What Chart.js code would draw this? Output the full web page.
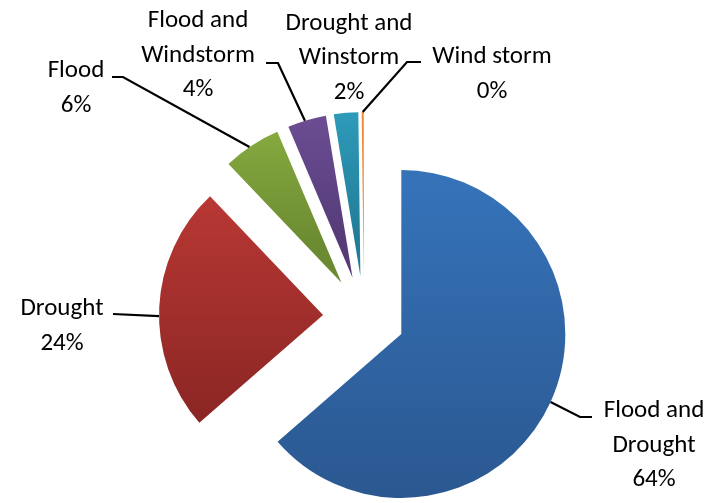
<!DOCTYPE html>
<html>
<head>
<meta charset="utf-8">
<title>Hazard types</title>
<script src="https://cdn.jsdelivr.net/npm/chart.js@4.4.1/dist/chart.umd.min.js"></script>
<style>
  html, body { margin: 0; padding: 0; background: #fff; }
  #wrap { width: 721px; height: 503px; position: relative; }
</style>
</head>
<body>
<div id="wrap"><canvas id="hazardPie"></canvas></div>
<script>
// Categories (lines of each label) and their shares
var categories = [
  ['Flood and', 'Drought'],
  ['Drought'],
  ['Flood'],
  ['Flood and', 'Windstorm'],
  ['Drought and', 'Winstorm'],
  ['Wind storm']
];
var shares = [63.6, 24.3, 5.7, 3.8, 2.4, 0.2];

// top / bottom colours of the gradient for each slice
var topColors = ['#3572b8', '#b93834', '#8db243', '#73529c', '#32a4c4', '#f58d38'];
var bottomColors = ['#2a568e', '#8a2624', '#6b8a31', '#553c78', '#227d98', '#e07a28'];

// label layout: text centre x, first baseline y, leader points, where on the arc the leader lands
var labelLayout = [
  { x: 654, y: 417, leader: [[592, 417], [580, 417]], at: 0.5 },
  { x: 62, y: 315, leader: [[113, 314]], at: 0.465 },
  { x: 76, y: 77, leader: [[112, 77], [123, 77]], at: 0.46 },
  { x: 198, y: 27, leader: [[266, 63], [278, 63]], at: 0.45 },
  { x: 349, y: 29.5, leader: null, at: 0.5 },
  { x: 492, y: 63, leader: [[421, 62], [407, 62]], at: 0.5 }
];

var EXPLODE = 41;
var LINE_GAP = 34.5;
var FONT = '25px Carlito, Lato, "Liberation Sans", sans-serif';

function sliceShift(p) {
  var mid = (p.startAngle + p.endAngle) / 2;
  return { dx: Math.cos(mid) * EXPLODE, dy: Math.sin(mid) * EXPLODE };
}

// pull every slice out from the centre and give it its own vertical gradient
var explodePlugin = {
  id: 'explode',
  beforeDatasetDraw: function (chart, args) {
    var ctx = chart.ctx;
    args.meta.data.forEach(function (arc, i) {
      var p = arc.getProps(['x', 'y', 'startAngle', 'endAngle', 'outerRadius']);
      var s = sliceShift(p);
      var lo = Math.min(0, Math.sin(p.startAngle), Math.sin(p.endAngle));
      var hi = Math.max(0, Math.sin(p.startAngle), Math.sin(p.endAngle));
      [-Math.PI / 2, Math.PI / 2, 3 * Math.PI / 2].forEach(function (t) {
        if (t >= p.startAngle && t <= p.endAngle) {
          lo = Math.min(lo, Math.sin(t));
          hi = Math.max(hi, Math.sin(t));
        }
      });
      var y0 = p.y + s.dy + lo * p.outerRadius;
      var y1 = p.y + s.dy + hi * p.outerRadius;
      var g = ctx.createLinearGradient(0, y0, 0, Math.max(y1, y0 + 1));
      g.addColorStop(0, topColors[i]);
      g.addColorStop(1, bottomColors[i]);

      var saved = arc.options;
      arc.options = Object.assign({}, saved, { backgroundColor: g, offset: 0, borderWidth: 0 });
      ctx.save();
      ctx.translate(s.dx, s.dy);
      arc.draw(ctx);
      ctx.restore();
      arc.options = saved;
    });
    return false;
  }
};

// category / percentage labels with leader lines
var labelPlugin = {
  id: 'pieLabels',
  afterDatasetsDraw: function (chart) {
    var ctx = chart.ctx;
    var meta = chart.getDatasetMeta(0);
    var data = chart.data.datasets[0].data;
    var total = data.reduce(function (a, b) { return a + b; }, 0);
    ctx.save();
    meta.data.forEach(function (arc, i) {
      var lay = labelLayout[i];
      var p = arc.getProps(['x', 'y', 'startAngle', 'endAngle', 'outerRadius']);
      var s = sliceShift(p);
      if (lay.leader) {
        var a = p.startAngle + lay.at * (p.endAngle - p.startAngle);
        var ex = p.x + s.dx + Math.cos(a) * p.outerRadius;
        var ey = p.y + s.dy + Math.sin(a) * p.outerRadius;
        ctx.beginPath();
        ctx.moveTo(lay.leader[0][0], lay.leader[0][1]);
        for (var k = 1; k < lay.leader.length; k++) {
          ctx.lineTo(lay.leader[k][0], lay.leader[k][1]);
        }
        ctx.lineTo(ex, ey);
        ctx.strokeStyle = '#000';
        ctx.lineWidth = 2.2;
        ctx.stroke();
      }
      var lines = chart.data.labels[i].concat([Math.round(data[i] / total * 100) + '%']);
      ctx.font = FONT;
      ctx.fillStyle = '#000';
      ctx.textAlign = 'center';
      ctx.textBaseline = 'alphabetic';
      lines.forEach(function (t, j) {
        ctx.fillText(t, lay.x, lay.y + j * LINE_GAP);
      });
    });
    ctx.restore();
  }
};

var ctx = document.getElementById('hazardPie');
var hazardChart = new Chart(ctx, {
  type: 'pie',
  data: {
    labels: categories,
    datasets: [{
      data: shares,
      backgroundColor: topColors,
      borderWidth: 0
    }]
  },
  options: {
    responsive: true,
    maintainAspectRatio: false,
    animation: false,
    radius: 164,
    layout: {
      padding: { left: 100, right: 93, top: 140, bottom: 9 }
    },
    plugins: {
      legend: { display: false },
      tooltip: { enabled: false }
    },
    events: []
  },
  plugins: [explodePlugin, labelPlugin]
});
</script>
</body>
</html>
